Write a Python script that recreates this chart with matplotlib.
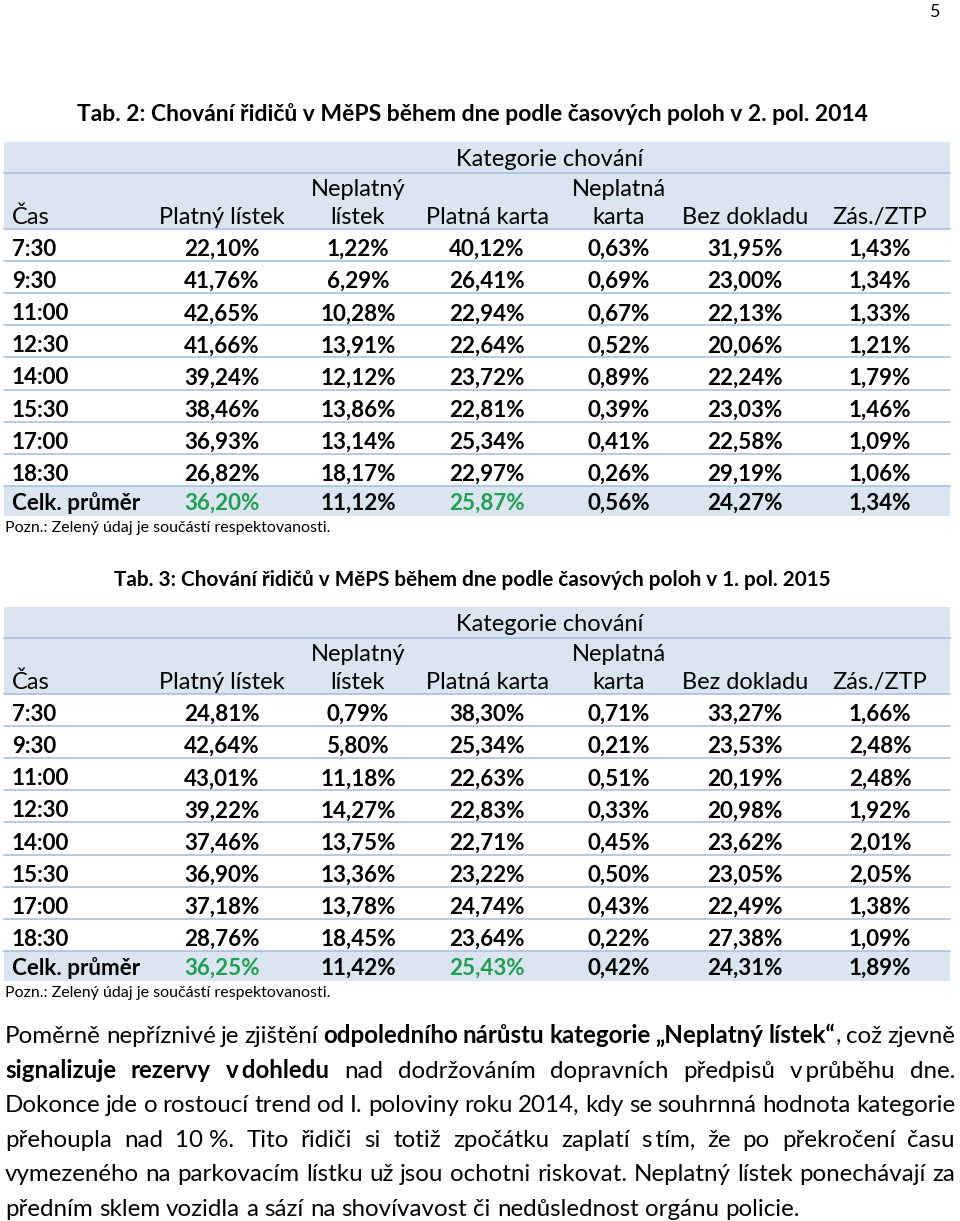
import matplotlib
matplotlib.use('Agg')
import matplotlib.pyplot as plt

FONT = ['Lato', 'DejaVu Sans']
plt.rcParams['font.family'] = FONT

# --- data ---------------------------------------------------------------
times = ['7:30', '9:30', '11:00', '12:30', '14:00', '15:30', '17:00', '18:30']
col_top = ['', 'Neplatný', '', 'Neplatná', '', '']
col_bottom = ['Platný lístek', 'lístek', 'Platná karta', 'karta', 'Bez dokladu', 'Zás./ZTP']

# 2. pol. 2014
plat_listek_14 = [22.10, 41.76, 42.65, 41.66, 39.24, 38.46, 36.93, 26.82]
neplat_listek_14 = [1.22, 6.29, 10.28, 13.91, 12.12, 13.86, 13.14, 18.17]
plat_karta_14 = [40.12, 26.41, 22.94, 22.64, 23.72, 22.81, 25.34, 22.97]
neplat_karta_14 = [0.63, 0.69, 0.67, 0.52, 0.89, 0.39, 0.41, 0.26]
bez_dokladu_14 = [31.95, 23.00, 22.13, 20.06, 22.24, 23.03, 22.58, 29.19]
zas_ztp_14 = [1.43, 1.34, 1.33, 1.21, 1.79, 1.46, 1.09, 1.06]
avg_14 = [36.20, 11.12, 25.87, 0.56, 24.27, 1.34]

# 1. pol. 2015
plat_listek_15 = [24.81, 42.64, 43.01, 39.22, 37.46, 36.90, 37.18, 28.76]
neplat_listek_15 = [0.79, 5.80, 11.18, 14.27, 13.75, 13.36, 13.78, 18.45]
plat_karta_15 = [38.30, 25.34, 22.63, 22.83, 22.71, 23.22, 24.74, 23.64]
neplat_karta_15 = [0.71, 0.21, 0.51, 0.33, 0.45, 0.50, 0.43, 0.22]
bez_dokladu_15 = [33.27, 23.53, 20.19, 20.98, 23.62, 23.05, 22.49, 27.38]
zas_ztp_15 = [1.66, 2.48, 2.48, 1.92, 2.01, 2.05, 1.38, 1.09]
avg_15 = [36.25, 11.42, 25.43, 0.42, 24.31, 1.89]

green_cols = [0, 2]  # part of "respektovanost"

title_14 = 'Tab. 2: Chování řidičů v MěPS během dne podle časových poloh v 2. pol. 2014'
title_15 = 'Tab. 3: Chování řidičů v MěPS během dne podle časových poloh v 1. pol. 2015'
note = 'Pozn.: Zelený údaj je součástí respektovanosti.'

# paragraph lines, each word = list of (text, bold) pieces
para = [
    [[('Poměrně', 0)], [('nepříznivé', 0)], [('je', 0)], [('zjištění', 0)],
     [('odpoledního', 1)], [('nárůstu', 1)], [('kategorie', 1)],
     [('„Neplatný', 1)], [('lístek“', 1), (',', 0)], [('což', 0)], [('zjevně', 0)]],
    [[('signalizuje', 1)], [('rezervy', 1)], [('v\u2009dohledu', 1)], [('nad', 0)],
     [('dodržováním', 0)], [('dopravních', 0)], [('předpisů', 0)],
     [('v\u2009průběhu', 0)], [('dne.', 0)]],
    [[(w, 0)] for w in 'Dokonce jde o rostoucí trend od I. poloviny roku 2014, kdy se souhrnná hodnota kategorie'.split()],
    [[(w, 0)] for w in ['přehoupla', 'nad', '10 %.', 'Tito', 'řidiči', 'si', 'totiž', 'zpočátku',
                        'zaplatí', 's\u2009tím,', 'že', 'po', 'překročení', 'času']],
    [[(w, 0)] for w in 'vymezeného na parkovacím lístku už jsou ochotni riskovat. Neplatný lístek ponechávají za'.split()],
    [[(w, 0)] for w in 'předním sklem vozidla a sází na shovívavost či nedůslednost orgánu policie.'.split()],
]

# --- figure in pixel coordinates ----------------------------------------
fig = plt.figure(figsize=(9.6, 12.21), dpi=100)
ax = fig.add_axes([0, 0, 1, 1])
ax.set_xlim(0, 960)
ax.set_ylim(1221, 0)
ax.axis('off')
fig.canvas.draw()
rend = fig.canvas.get_renderer()


def text_w(s, size, weight='normal'):
    t = ax.text(0, 0, s, fontsize=size, fontweight=weight)
    w = t.get_window_extent(rend).width
    t.remove()
    return w


def fit(s, target, weight='normal'):
    return 20 * target / text_w(s, 20, weight)


# Lato is wider than the squeezed original, so go a little above width-fit
hdr_size = fit('Platný lístek', 115) * 1.1
body_size = fit('22,10%', 67, 'bold') * 1.13
note_size = fit(note, 310) * 1.05

band_c = '#dbe5f1'
line_c = '#a3bcdc'
green = '#1f9e50'
col_x = [222, 358, 487, 619, 745, 880]
x0, x1 = 4, 950
pitch = 32.1


def fmt(v):
    return ('%.2f' % v).replace('.', ',') + '%'


def draw_table(top, title, title_w, cols, avg):
    tsize = fit(title, title_w, 'bold')
    ax.text(472, top - 21, title, fontsize=tsize, fontweight='bold',
            ha='center', va='baseline')
    hb = top + 87  # header bottom
    ax.fill_between([x0, x1], top, hb, color=band_c, lw=0)
    ax.plot([x0, x1], [top + 31, top + 31], color=line_c, lw=1.1)
    ax.text(550, top + 24, 'Kategorie chování', fontsize=hdr_size,
            ha='center', va='baseline')
    ax.text(12, top + 82, 'Čas', fontsize=hdr_size, va='baseline')
    for j, x in enumerate(col_x):
        if col_top[j]:
            ax.text(x, top + 54, col_top[j], fontsize=hdr_size,
                    ha='center', va='baseline')
        ax.text(x, top + 82, col_bottom[j], fontsize=hdr_size,
                ha='center', va='baseline')
    ax.plot([x0, x1], [hb, hb], color=line_c, lw=1.1)
    for i, tm in enumerate(times):
        yb = hb + (i + 1) * pitch
        ax.text(12, yb - 5, tm, fontsize=body_size, fontweight='bold',
                va='baseline')
        for j, x in enumerate(col_x):
            ax.text(x, yb - 5, fmt(cols[j][i]), fontsize=body_size,
                    fontweight='bold', ha='center', va='baseline')
        ax.plot([x0, x1], [yb, yb], color=line_c, lw=1.1)
    ya = hb + len(times) * pitch
    ax.fill_between([x0, x1], ya, ya + 30, color=band_c, lw=0)
    ax.text(12, ya + 24, 'Celk. průměr', fontsize=body_size,
            fontweight='bold', va='baseline')
    for j, x in enumerate(col_x):
        ax.text(x, ya + 24, fmt(avg[j]), fontsize=body_size,
                fontweight='bold', ha='center', va='baseline',
                color=green if j in green_cols else 'black')
    ax.text(5, ya + 46, note, fontsize=note_size, va='baseline')


draw_table(142, title_14, 792,
           [plat_listek_14, neplat_listek_14, plat_karta_14,
            neplat_karta_14, bez_dokladu_14, zas_ztp_14], avg_14)
draw_table(607, title_15, 720,
           [plat_listek_15, neplat_listek_15, plat_karta_15,
            neplat_karta_15, bez_dokladu_15, zas_ztp_15], avg_15)

# --- justified paragraph -----------------------------------------------
left, right = 5, 955
last = ' '.join(''.join(p for p, b in w) for w in para[-1])
psize = fit(last, 750) * 1.1


def natural(words, size):
    ws = sum(text_w(p, size, 'bold' if b else 'normal') for w in words for p, b in w)
    return ws + (len(words) - 1) * text_w(' ', size) * 0.8


widest = max(natural(w, psize) for w in para)
if widest > right - left:
    psize *= (right - left) / widest

for li, words in enumerate(para):
    yb = 1043 + li * 34.6
    widths = []
    for w in words:
        widths.append(sum(text_w(p, psize, 'bold' if b else 'normal') for p, b in w))
    if li < len(para) - 1:
        gap = (right - left - sum(widths)) / (len(words) - 1)
    else:
        gap = text_w(' ', psize)
    x = left
    for w, ww in zip(words, widths):
        xx = x
        for p, b in w:
            wt = 'bold' if b else 'normal'
            ax.text(xx, yb, p, fontsize=psize, fontweight=wt, va='baseline')
            xx += text_w(p, psize, wt)
        x += ww + gap

ax.text(935, 17, '5', fontsize=13, ha='center', va='baseline')

fig.savefig('out.png', dpi=100)
